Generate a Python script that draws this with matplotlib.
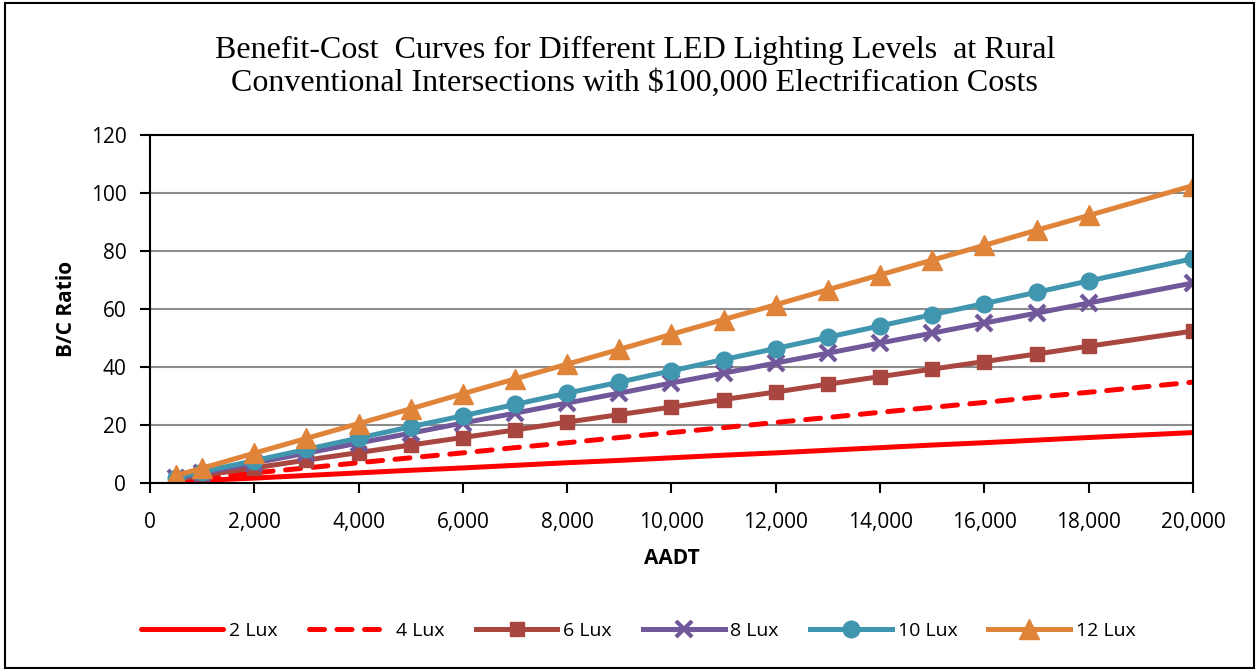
import matplotlib
matplotlib.use("Agg")
from matplotlib import pyplot as plt
from matplotlib.patches import Rectangle
from matplotlib.ticker import FuncFormatter

# AADT values (no point at 19,000 in the source chart)
aadt = [500, 1000, 2000, 3000, 4000, 5000, 6000, 7000, 8000, 9000, 10000,
        11000, 12000, 13000, 14000, 15000, 16000, 17000, 18000, 20000]

lux2 = [0.4, 0.9, 1.7, 2.6, 3.5, 4.4, 5.2, 6.1, 7.0, 7.8, 8.7,
        9.6, 10.4, 11.3, 12.2, 13.1, 13.9, 14.8, 15.7, 17.4]
lux4 = [0.9, 1.7, 3.5, 5.2, 7.0, 8.7, 10.4, 12.2, 13.9, 15.7, 17.4,
        19.1, 20.9, 22.6, 24.4, 26.1, 27.8, 29.6, 31.3, 34.8]
lux6 = [1.3, 2.6, 5.2, 7.9, 10.5, 13.1, 15.7, 18.3, 21.0, 23.6, 26.2,
        28.8, 31.4, 34.1, 36.7, 39.3, 41.9, 44.5, 47.2, 52.4]
lux8 = [1.7, 3.4, 6.9, 10.3, 13.8, 17.2, 20.7, 24.1, 27.6, 31.0, 34.5,
        37.9, 41.4, 44.8, 48.3, 51.7, 55.2, 58.6, 62.1, 69.0]
lux10 = [1.9, 3.9, 7.7, 11.6, 15.5, 19.4, 23.2, 27.1, 31.0, 34.8, 38.7,
         42.6, 46.4, 50.3, 54.2, 58.1, 61.9, 65.8, 69.7, 77.4]
lux12 = [2.6, 5.1, 10.3, 15.4, 20.5, 25.6, 30.8, 35.9, 41.0, 46.1, 51.3,
         56.4, 61.5, 66.7, 71.8, 76.9, 82.0, 87.2, 92.3, 102.6]

labels = ["2 Lux", "4 Lux", "6 Lux", "8 Lux", "10 Lux", "12 Lux"]

fig = plt.figure(figsize=(12.57, 6.69), dpi=100)
# outer chart border
fig.patches.append(Rectangle((0.004, 0.002), 0.994, 0.994, transform=fig.transFigure,
                             fill=False, edgecolor="black", linewidth=1.5))

ax = fig.add_axes([0.1193, 0.278, 0.8298, 0.52])

lw = 3.6
ax.plot(aadt, lux2, color="#FF0000", lw=lw, label=labels[0], solid_capstyle="round")
ax.plot(aadt, lux4, color="#FF0000", lw=lw, ls=(0, (3, 2.5)), label=labels[1],
        dash_capstyle="round")
ax.plot(aadt, lux6, color="#A9463F", lw=lw, marker="s", ms=10, label=labels[2])
ax.plot(aadt, lux8, color="#71589A", lw=lw, marker="x", ms=12, mew=3, label=labels[3])
ax.plot(aadt, lux10, color="#4196AF", lw=lw, marker="o", ms=12, label=labels[4])
ax.plot(aadt, lux12, color="#E0843A", lw=lw, marker="^", ms=14, label=labels[5])

ax.set_xlim(0, 20000)
ax.set_ylim(0, 120)
ax.set_xticks(range(0, 20001, 2000))
ax.set_yticks(range(0, 121, 20))
ax.xaxis.set_major_formatter(FuncFormatter(lambda v, p: f"{int(v):,}"))
ax.grid(axis="y", color="#8C8C8C", lw=1.5)
ax.set_axisbelow(True)
for s in ax.spines.values():
    s.set_color("black")
    s.set_linewidth(1.5)
ax.tick_params(direction="out", length=7, width=1.5, labelsize=15)
ax.tick_params(axis="x", pad=14)
ax.tick_params(axis="y", pad=10)
for t in ax.get_xticklabels() + ax.get_yticklabels():
    t.set_fontfamily("Open Sans")

ax.set_xlabel("AADT", fontsize=15, fontweight="bold", family="Open Sans", labelpad=11)
ax.set_ylabel("B/C Ratio", fontsize=15, fontweight="bold", family="Open Sans", labelpad=10)

fig.text(0.505, 0.9, "Benefit-Cost  Curves for Different LED Lighting Levels  at Rural\n"
         "Conventional Intersections with $100,000 Electrification Costs",
         ha="center", va="center", fontsize=23, family="Liberation Serif", linespacing=1.2)

leg = fig.legend(loc="center", bbox_to_anchor=(0.508, 0.057), ncol=6, frameon=False,
                 handlelength=4.2, columnspacing=1.6, handletextpad=0.3,
                 prop={"family": "Open Sans", "size": 14})

fig.savefig("out.png", dpi=100)
